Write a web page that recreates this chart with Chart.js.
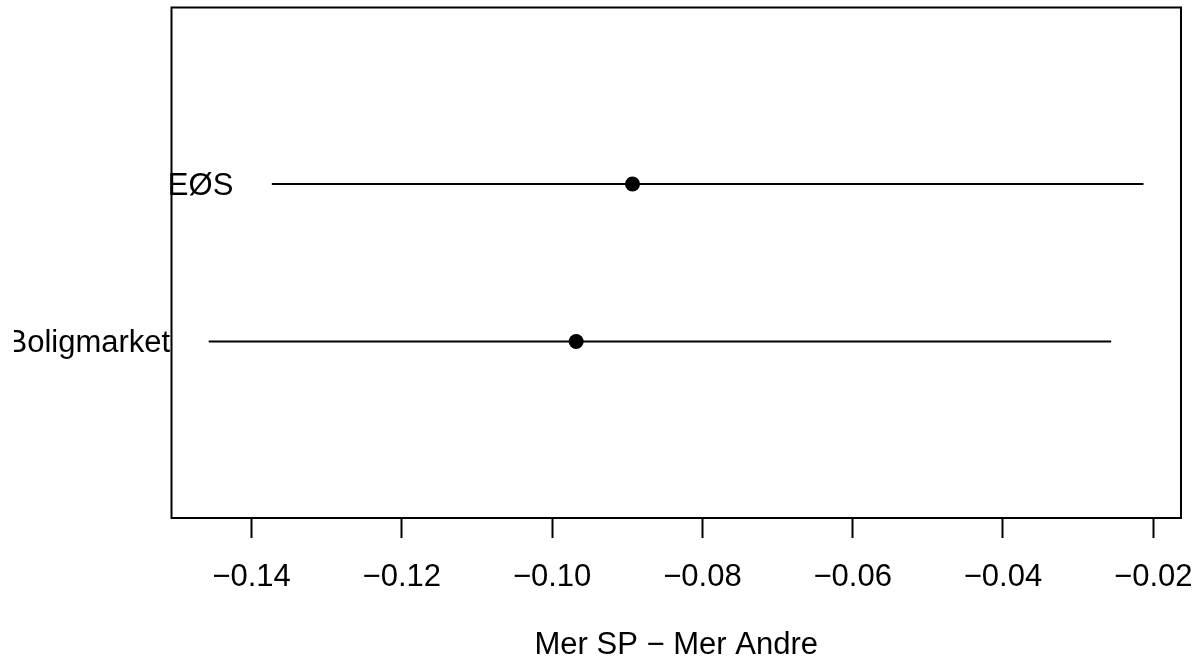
<!DOCTYPE html>
<html>
<head>
<meta charset="UTF-8">
<title>Mer SP - Mer Andre</title>
<script src="https://cdn.jsdelivr.net/npm/chart.js@4/dist/chart.umd.min.js"></script>
<style>
  body { margin: 0; background: #fff; }
  canvas { display: block; }
</style>
</head>
<body>
<canvas id="canvas" width="1201" height="668"></canvas>
<script>
// data, bottom row first
const categories = ['Boligmarket', 'EØS'];
const estimates = [-0.0968, -0.0893];
const lower = [-0.1457, -0.1373];
const upper = [-0.0256, -0.0213];
const tickValues = [-0.14, -0.12, -0.10, -0.08, -0.06, -0.04, -0.02];
const tickLabels = ['\u22120.14', '\u22120.12', '\u22120.10', '\u22120.08', '\u22120.06', '\u22120.04', '\u22120.02'];

const FONT = "'Liberation Sans', Arial, Helvetica, sans-serif";

let datasets = [{
    label: 'estimate',
    data: estimates.map(function (v, i) { return {x: v, y: i + 1}; }),
    pointRadius: 7.5,
    pointBackgroundColor: '#000',
    pointBorderColor: '#000',
    pointBorderWidth: 0,
    showLine: false
}];
categories.forEach(function (c, i) {
    datasets.push({
        label: c,
        data: [{x: lower[i], y: i + 1}, {x: upper[i], y: i + 1}],
        showLine: true,
        borderColor: '#000',
        borderWidth: 2,
        pointRadius: 0
    });
});

// category names to the left of each interval, plus the box
const labelsAndBox = {
    id: 'labelsAndBox',
    afterDraw(chart) {
        const ctx = chart.ctx;
        const xs = chart.scales.x, ys = chart.scales.y;
        const a = chart.chartArea;
        ctx.save();
        ctx.strokeStyle = '#000';
        ctx.lineWidth = 2;
        ctx.strokeRect(a.left, a.top, a.right - a.left, a.bottom - a.top);
        ctx.beginPath();
        ctx.rect(14, 0, chart.width, chart.height);
        ctx.clip();
        ctx.fillStyle = '#000';
        ctx.font = '31px ' + FONT;
        ctx.textAlign = 'right';
        ctx.textBaseline = 'middle';
        categories.forEach(function (c, i) {
            ctx.fillText(c, xs.getPixelForValue(lower[i]) - 38.5, ys.getPixelForValue(i + 1) + 2);
        });
        ctx.restore();
    }
};

let ctx = document.getElementById('canvas').getContext('2d');
let config = {
    type: 'scatter',
    data: { datasets: datasets },
    options: {
        responsive: false,
        animation: false,
        layout: { padding: { left: 171.5, right: 20, top: 7, bottom: 0 } },
        plugins: { legend: { display: false }, tooltip: { enabled: false } },
        scales: {
            x: {
                type: 'linear',
                min: -0.15065,
                max: -0.01631,
                afterBuildTicks: function (scale) {
                    scale.ticks = tickValues.map(function (v) { return {value: v}; });
                },
                afterFit: function (scale) {
                    scale.height = 150;
                    scale.paddingLeft = 0;
                    scale.paddingRight = 0;
                },
                grid: {
                    drawOnChartArea: false,
                    drawTicks: true,
                    tickLength: 20,
                    tickWidth: 2,
                    tickColor: '#000'
                },
                border: { display: true, color: '#000', width: 2 },
                ticks: {
                    color: '#000',
                    font: { family: FONT, size: 31 },
                    padding: 21,
                    maxRotation: 0,
                    autoSkip: false,
                    callback: function (v) {
                        let i = tickValues.findIndex(function (t) { return Math.abs(t - v) < 1e-9; });
                        return i >= 0 ? tickLabels[i] : '';
                    }
                },
                title: {
                    display: true,
                    text: 'Mer SP \u2212 Mer Andre',
                    color: '#000',
                    font: { family: FONT, size: 31 },
                    padding: { top: 0, bottom: 4 }
                }
            },
            y: {
                type: 'linear',
                min: -0.12,
                max: 3.12,
                display: false
            }
        }
    },
    plugins: [labelsAndBox]
};

let myChart = new Chart(ctx, config);
</script>
</body>
</html>
